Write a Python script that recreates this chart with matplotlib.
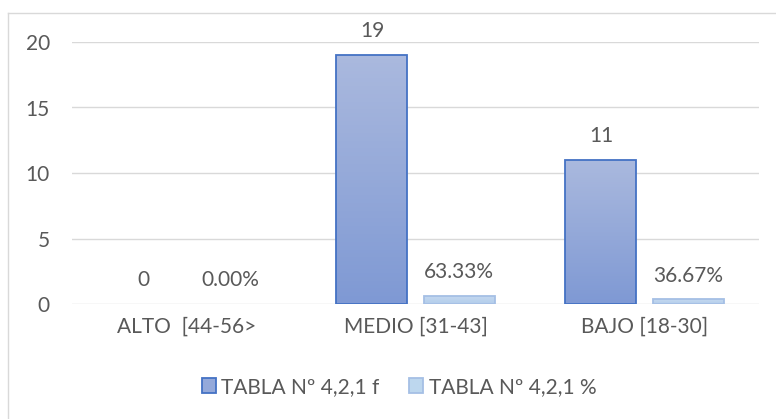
import numpy as np
import matplotlib
matplotlib.use('Agg')
import matplotlib.pyplot as plt
from matplotlib.patches import Rectangle

# ── 데이터 ──────────────────────────────
categories = ['ALTO  [44-56>', 'MEDIO [31-43]', 'BAJO [18-30]']
freq = [0, 19, 11]
pct = [0.0, 0.6333, 0.3667]
series_names = ['TABLA Nº 4,2,1 f', 'TABLA Nº 4,2,1 %']

TEXT = '#595959'
FS = 15
plt.rcParams['font.family'] = ['Lato', 'DejaVu Sans']

W, H = 776, 419
fig = plt.figure(figsize=(W / 100, H / 100), dpi=100)
ax = fig.add_axes([72 / W, 1 - 304 / H, (759 - 72) / W, (304 - 42) / H])

x = np.arange(len(categories))
bw = 0.31
off = 0.19


def hex2rgb(h):
  h = h.lstrip('#')
  return [int(h[i:i + 2], 16) / 255 for i in (0, 2, 4)]


def gradient_bars(ax, xs, vals, top_hex, bot_hex, edge):
  # 값 0 막대는 Excel처럼 아무것도 그리지 않음
  edges = [edge if v > 0 else 'none' for v in vals]
  bars = ax.bar(xs, vals, width=bw, color='none', edgecolor=edges, lw=1.3, zorder=3)
  grad = np.linspace(0, 1, 64)[:, None, None]
  top = np.array(hex2rgb(top_hex))[None, None, :]
  bot = np.array(hex2rgb(bot_hex))[None, None, :]
  img = bot * (1 - grad) + top * grad
  for b in bars:
    if b.get_height() <= 0:
      continue
    bx, by = b.get_x(), b.get_y()
    im = ax.imshow(img, extent=[bx, bx + b.get_width(), by, by + b.get_height()],
                   origin='lower', aspect='auto', zorder=2)
    im.set_clip_path(b)
  return bars


gradient_bars(ax, x - off, freq, '#AAB9DE', '#7F99D4', '#4472C4')
gradient_bars(ax, x + off, pct, '#C5D9F0', '#B3CDEB', '#A5BFE5')

for xi, v in zip(x - off, freq):
  ax.annotate(f'{v:g}', (xi, v), xytext=(0, 17), textcoords='offset points',
              ha='center', va='center', fontsize=FS, color=TEXT)
for xi, v in zip(x + off, pct):
  ax.annotate(f'{v * 100:.2f}%', (xi, v), xytext=(0, 17), textcoords='offset points',
              ha='center', va='center', fontsize=FS, color=TEXT)

ax.set_xlim(-0.5, len(categories) - 0.5)
ax.set_ylim(0, 20)
ax.set_yticks([0, 5, 10, 15, 20])
ax.yaxis.grid(True, color='#D9D9D9', lw=1)
ax.set_axisbelow(True)
for s in ax.spines.values():
  s.set_visible(False)
ax.tick_params(axis='both', length=0, labelsize=FS, labelcolor=TEXT)
ax.tick_params(axis='y', pad=16)
ax.tick_params(axis='x', pad=9)
ax.set_xticks(x)
ax.set_xticklabels(categories)

# 범례
handles = [Rectangle((0, 0), 1, 1, facecolor='#94A9DA', edgecolor='#4472C4', lw=1.3),
           Rectangle((0, 0), 1, 1, facecolor='#BDD7EE', edgecolor='#A5BFE5', lw=1.3)]
fig.legend(handles, series_names, loc='center', bbox_to_anchor=(399 / W, 1 - 387 / H),
           ncol=2, frameon=False, fontsize=FS, labelcolor=TEXT,
           handlelength=0.7, handleheight=0.7, handletextpad=0.25, columnspacing=1.4)

# 차트 영역 테두리 (왼쪽/위쪽만 보임)
fig.add_artist(plt.Line2D([8 / W, 8 / W], [0, 1 - 13 / H], transform=fig.transFigure,
                          color='#D9D9D9', lw=1))
fig.add_artist(plt.Line2D([8 / W, 1], [1 - 13 / H, 1 - 13 / H], transform=fig.transFigure,
                          color='#D9D9D9', lw=1))

fig.savefig('out.png', dpi=100)
